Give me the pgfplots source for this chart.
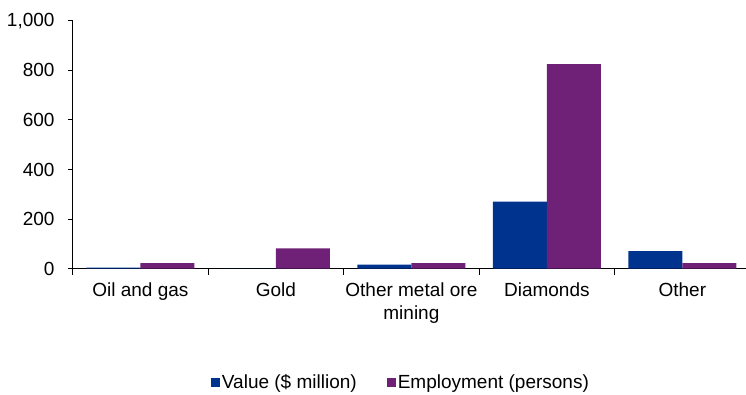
\documentclass[border=0pt]{standalone}
\usepackage{pgfplots}
\pgfplotsset{compat=1.18}
\usepackage{fontspec}
\setmainfont{Liberation Sans}
\definecolor{cblue}{HTML}{00338D}
\definecolor{cpurple}{HTML}{6F2077}
\begin{document}
\fontsize{19}{23}\selectfont
\begin{tikzpicture}
\path[use as bounding box] (-72.7pt,-125.3pt) rectangle (673.3pt,268.7pt);
\begin{axis}[
  at={(0pt,0pt)}, anchor=south west,
  scale only axis, width=673.3pt, height=248pt,
  xmin=-0.5, xmax=4.47, ymin=0, ymax=1000,
  ybar=0pt, bar width=54pt,
  axis x line=bottom, axis y line=left,
  axis line style={-, line width=1pt, black},
  xtick={0,1,2,3,4},
  xticklabels={Oil and gas, Gold, {Other metal ore\\mining}, Diamonds, Other},
  minor xtick={-0.5,0.5,1.5,2.5,3.5},
  major x tick style={draw=none},
  minor x tick style={line width=1pt, black},
  minor tick length=6pt,
  ytick={0,200,400,600,800,1000},
  ytick style={line width=1pt, black},
  tick align=outside,
  major tick length=5pt,
  yticklabel style={inner sep=0pt, anchor=east, xshift=-13pt},
  xticklabel style={inner sep=0pt, anchor=north, align=center, yshift=-9pt, font=\fontsize{19}{22.5}\selectfont},
  yticklabels={0,200,400,600,800,{1,000}},
  /pgf/number format/assume math mode=true,
  tick label style={font=\fontsize{19}{22.5}\selectfont},
  legend style={at={(0.4875,-0.46)}, anchor=center, draw=none, fill=none,
    legend columns=2, font=\fontsize{19}{23}\selectfont,
    /tikz/every even column/.append style={column sep=28pt}},
  legend image code/.code={\fill[#1] (-3pt,-4.5pt) rectangle (6pt,4.5pt);},
  legend cell align=left,
]
\addplot[fill=cblue, draw=none] coordinates {(0,4) (1,0) (2,16) (3,270) (4,71)};
\addplot[fill=cpurple, draw=none] coordinates {(0,22) (1,82) (2,22) (3,825) (4,22)};
\legend{Value (\$ million), Employment (persons)}
\end{axis}
\end{tikzpicture}
\end{document}
